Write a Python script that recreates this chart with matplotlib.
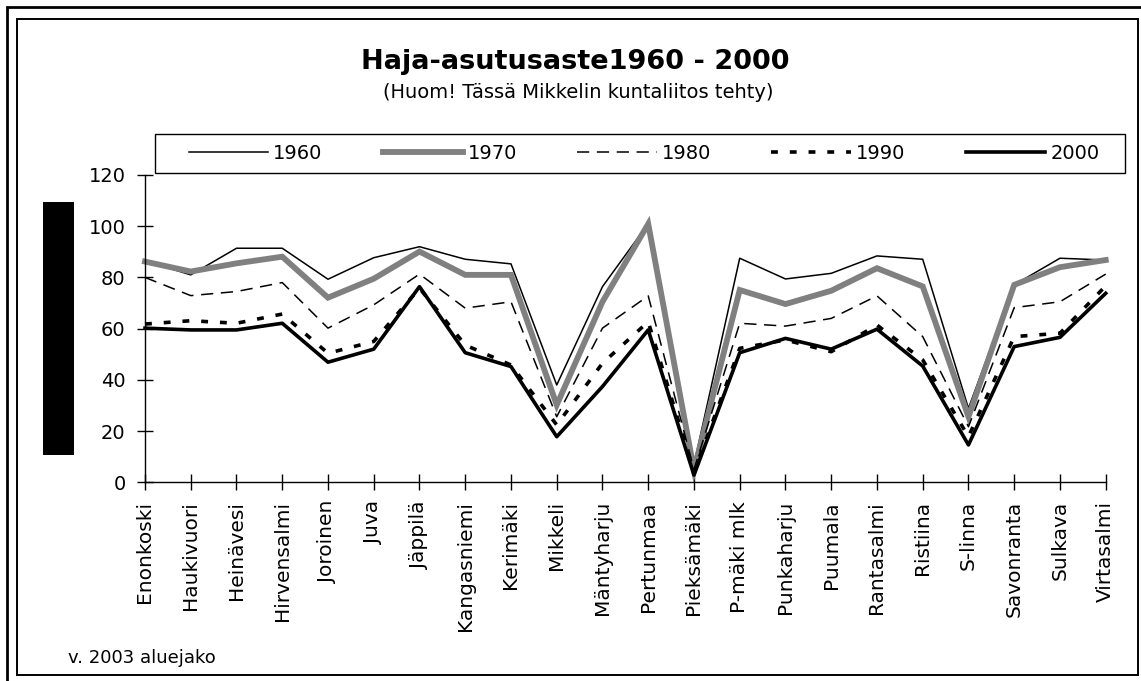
import matplotlib
matplotlib.use("Agg")
import matplotlib.pyplot as plt
from matplotlib.patches import Rectangle
import numpy as np

# Data
kunnat = ["Enonkoski", "Haukivuori", "Heinävesi", "Hirvensalmi", "Joroinen",
          "Juva", "Jäppilä", "Kangasniemi", "Kerimäki", "Mikkeli",
          "Mäntyharju", "Pertunmaa", "Pieksämäki", "P-mäki mlk", "Punkaharju",
          "Puumala", "Rantasalmi", "Ristiina", "S-linna", "Savonranta",
          "Sulkava", "Virtasalmi"]

v1960 = [86.5, 81.0, 91.4, 91.4, 79.3, 87.7, 92.0, 87.1, 85.3, 38.0, 76.4,
         101.0, 7.0, 87.5, 79.4, 81.6, 88.4, 87.1, 28.9, 77.1, 87.5, 86.8]
v1970 = [86.2, 82.3, 85.5, 88.1, 72.1, 79.5, 90.1, 81.0, 81.0, 30.2, 70.5,
         100.9, 4.8, 75.1, 69.6, 74.8, 83.6, 76.5, 25.6, 77.1, 84.0, 86.8]
v1980 = [80.0, 72.9, 74.5, 78.0, 60.2, 69.3, 81.3, 68.0, 70.5, 25.6, 60.2,
         72.8, 5.0, 62.1, 61.0, 64.0, 72.8, 56.9, 21.7, 68.2, 70.5, 81.3]
v1990 = [61.8, 63.1, 62.1, 65.7, 50.4, 55.0, 75.8, 53.6, 45.8, 22.4, 46.5,
         62.7, 4.0, 52.3, 55.6, 51.0, 61.4, 47.8, 17.8, 56.9, 58.2, 76.7]
v2000 = [60.2, 59.5, 59.5, 62.1, 46.9, 52.0, 76.4, 50.6, 45.2, 17.8, 37.4,
         59.5, 2.8, 50.6, 56.2, 52.0, 59.8, 45.4, 14.6, 53.0, 56.6, 73.8]

W, H = 1141, 681
fig = plt.figure(figsize=(W / 100, H / 100), dpi=100)
plt.rcParams["font.family"] = "DejaVu Sans"


def fx(px):
    return px / W


def fy(py):
    return 1 - py / H


# frames around the chart
fig.patches.append(Rectangle((fx(7), fy(700)), fx(1200), fy(7) - fy(700),
                             transform=fig.transFigure, fill=False,
                             edgecolor="black", lw=2))
fig.patches.append(Rectangle((fx(17), fy(675)), fx(1138) - fx(17), fy(19) - fy(675),
                             transform=fig.transFigure, fill=False,
                             edgecolor="black", lw=1.4))

ax = fig.add_axes([fx(145), fy(482.3), fx(1105.7) - fx(145), fy(175) - fy(482.3)])
x = np.arange(len(kunnat))

ax.plot(x, v1960, color="black", lw=1.1, label="1960", clip_on=False)
ax.plot(x, v1970, color="#808080", lw=4.2, label="1970", clip_on=False,
        solid_joinstyle="miter")
ax.plot(x, v1980, color="black", lw=1.1, ls=(0, (8, 5)), label="1980", clip_on=False)
ax.plot(x, v1990, color="black", lw=2.6, ls=(0, (1.9, 3.3)), label="1990", clip_on=False)
ax.plot(x, v2000, color="black", lw=2.6, label="2000", clip_on=False)

ax.set_xlim(0, len(kunnat) - 1)
ax.set_ylim(0, 120)
ax.set_yticks(range(0, 121, 20))
ax.set_xticks(x)
ax.set_xticklabels(kunnat, rotation=90, fontsize=14.5)
ax.tick_params(axis="y", direction="inout", length=11, width=1, labelsize=14, pad=8.5)
ax.tick_params(axis="x", direction="inout", length=11, width=1, pad=8)
for s in ["top", "right"]:
    ax.spines[s].set_visible(False)
for s in ["left", "bottom"]:
    ax.spines[s].set_color("black")
    ax.spines[s].set_linewidth(1)

# legend box and legend
fig.patches.append(Rectangle((fx(155), fy(173)), fx(1125) - fx(155), fy(134) - fy(173),
                             transform=fig.transFigure, facecolor="white",
                             edgecolor="black", lw=1, zorder=3))
fig.legend(loc="center", bbox_to_anchor=(fx(644), fy(153.5)), ncol=5, frameon=False,
           fontsize=14, handlelength=4.1, handletextpad=0.26, columnspacing=3.09)

# black block at left (covered axis title)
fig.patches.append(Rectangle((fx(43.3), fy(455)), fx(74) - fx(43.3), fy(201.7) - fy(455),
                             transform=fig.transFigure, facecolor="black",
                             edgecolor="none"))

fig.text(fx(575), fy(62), "Haja-asutusaste1960 - 2000", ha="center", va="center",
         fontsize=19.5, fontweight="bold")
fig.text(fx(578), fy(92), "(Huom! Tässä Mikkelin kuntaliitos tehty)", ha="center",
         va="center", fontsize=14)
fig.text(fx(68), fy(663), "v. 2003 aluejako", ha="left", va="baseline", fontsize=13)

fig.savefig("out.png", dpi=100)
